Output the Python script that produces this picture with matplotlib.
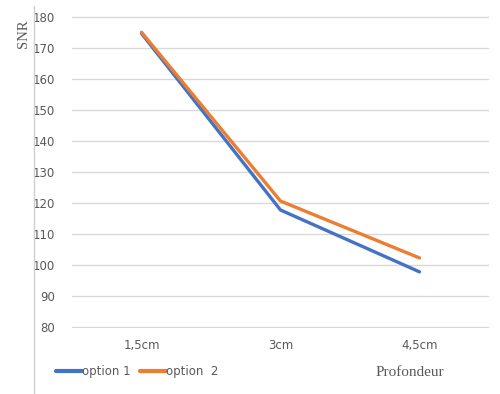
import matplotlib
matplotlib.use("Agg")
import matplotlib.pyplot as plt
from matplotlib.lines import Line2D

categories = ["1,5cm", "3cm", "4,5cm"]
option1 = [174.8, 117.7, 97.7]
option2 = [175.2, 120.6, 102.2]
yticks = [80, 90, 100, 110, 120, 130, 140, 150, 160, 170, 180]

fig = plt.figure(figsize=(5.0, 3.94), dpi=100)
ax = fig.add_axes([0.144, 0.168, 0.834, 0.791])

x = list(range(len(categories)))
ax.plot(x, option1, color="#4472C4", lw=2.4, label="option 1", solid_capstyle="round")
ax.plot(x, option2, color="#ED7D31", lw=2.4, label="option  2", solid_capstyle="round")

ax.set_xlim(-0.5, len(categories) - 0.5)
ax.set_ylim(79.6, 180.4)
ax.set_yticks(yticks)
ax.set_xticks(x)
ax.set_xticklabels(categories)
ax.grid(axis="y", color="#d9d9d9", lw=1)
ax.set_axisbelow(True)
for s in ax.spines.values():
    s.set_visible(False)
ax.tick_params(axis="both", length=0, colors="#595959", labelsize=8.5)
ax.tick_params(axis="y", pad=12)
ax.tick_params(axis="x", pad=8)
for lab in ax.get_xticklabels() + ax.get_yticklabels():
    lab.set_color("#595959")

fig.text(0.046, 0.915, "SNR", rotation=90, ha="center", va="center",
         family="Liberation Serif", fontsize=10.5, color="#595959")
fig.text(0.82, 0.055, "Profondeur", ha="center", va="center",
         family="Liberation Serif", fontsize=11, color="#595959")

leg = fig.legend(loc="center left", bbox_to_anchor=(0.09, 0.058), ncol=2, frameon=False,
                 fontsize=8.5, handlelength=2.2, handletextpad=0.0, columnspacing=0.8)
for t in leg.get_texts():
    t.set_color("#595959")
for h in leg.legend_handles:
    h.set_linewidth(3)

fig.add_artist(Line2D([0.068, 0.068], [0.0, 0.985], transform=fig.transFigure,
                      color="#d0d0d0", lw=1))

fig.savefig("out.png", dpi=100)
